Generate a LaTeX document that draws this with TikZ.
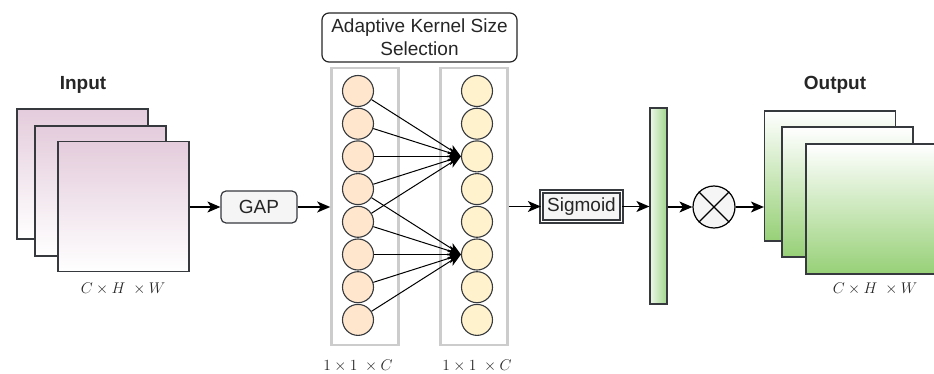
\documentclass[tikz,border=0pt]{standalone}
\usepackage{fix-cm}
\usepackage{fontspec}
\setmainfont{Liberation Sans}
\usetikzlibrary{arrows.meta,shapes.geometric}
\definecolor{inpink}{RGB}{228,204,220}
\definecolor{outgreen}{RGB}{151,208,119}
\definecolor{peach}{RGB}{255,230,204}
\definecolor{cream}{RGB}{255,242,204}
\definecolor{framegray}{RGB}{204,204,204}
\definecolor{edgegray}{RGB}{54,57,61}
\definecolor{boxfill}{RGB}{245,245,245}
\tikzset{
  arr/.style={line width=1.3pt,-{Stealth[length=13pt,width=11pt,inset=3.5pt]}},
  insq/.style={draw=edgegray,line width=1.2pt,minimum width=131pt,minimum height=130pt,inner sep=0pt,top color=inpink,bottom color=white},
  outsq/.style={draw=edgegray,line width=1.2pt,minimum width=131pt,minimum height=130pt,inner sep=0pt,top color=white,bottom color=outgreen},
  lcirc/.style={circle,draw=edgegray,line width=1.1pt,fill=peach,minimum size=31pt,inner sep=0pt},
  rcirc/.style={circle,draw=edgegray,line width=1.1pt,fill=cream,minimum size=31pt,inner sep=0pt},
  frame/.style={draw=framegray,line width=2.6pt,minimum width=67pt,minimum height=277pt,inner sep=0pt},
  lbl/.style={font=\fontsize{19}{23}\selectfont,text=black!85},
  mlbl/.style={font=\fontsize{15.5}{18}\selectfont,text=black!85},
  conn/.style={line width=1pt,-{Stealth[length=13pt,width=10pt,inset=3.5pt]}}
}
\begin{document}
\begin{tikzpicture}[x=1pt,y=-1pt]
\useasboundingbox (0,0) rectangle (934,374);
% input stack
\node[insq] (in1) at (82.5,174) {};
\node[insq] (in2) at (100.5,191) {};
\node[insq] (in3) at (123.5,206.5) {};
\node[lbl,font=\fontsize{19}{23}\selectfont\bfseries] (intext) at (83,85) {Input};
\node[mlbl] (indim) at (123,289) {$C\times H\ \times W$};
% GAP
\node[draw=edgegray,line width=1.2pt,rounded corners=5pt,fill=boxfill,minimum width=76pt,minimum height=32pt,lbl] (gap) at (259,207) {GAP};
% frames
\node[frame] (lf) at (365,206.5) {};
\node[frame] (rf) at (474,206.5) {};
\node[draw=black!85,line width=1.2pt,rounded corners=7pt,fill=white,minimum width=195pt,minimum height=49pt,lbl,align=center,inner sep=1pt] (title) at (419.5,37.5) {Adaptive Kernel Size\\Selection};
% circles
\foreach \i in {1,...,8}{
  \node[lcirc] (l\i) at (358,{91+(\i-1)*32.7}) {};
  \node[rcirc] (r\i) at (477,{91+(\i-1)*32.7}) {};
}
\foreach \i in {1,...,5} \draw[conn] (l\i) -- (r3.west);
\foreach \i in {4,...,8} \draw[conn] (l\i) -- (r6.west);
\node[mlbl] (d1) at (358,366) {$1\times 1\ \times C$};
\node[mlbl] (d2) at (477,366) {$1\times 1\ \times C$};
% sigmoid
\node[draw=edgegray,line width=1.3pt,double=white,double distance=1.6pt,fill=boxfill,minimum width=80pt,minimum height=30pt,inner sep=1pt,lbl] (sig) at (581.5,206.5) {Sigmoid};
% bar
\node[draw=edgegray,line width=1.2pt,minimum width=17pt,minimum height=196pt,inner sep=0pt,left color={rgb,255:red,236;green,247;blue,232},right color={rgb,255:red,160;green,214;blue,140}] (bar) at (658.5,206) {};
% multiply
\node[circle,draw=black,line width=1.2pt,fill=boxfill,minimum size=42pt,inner sep=0pt] (mul) at (714,207) {};
\draw[line width=1.2pt] (mul.45) -- (mul.225) (mul.135) -- (mul.315);
% output stack
\node[outsq] (o1) at (830,176) {};
\node[outsq] (o2) at (847.5,192) {};
\node[outsq] (o3) at (871.5,209) {};
\node[lbl,font=\fontsize{19}{23}\selectfont\bfseries] (outtext) at (835,85) {Output};
\node[mlbl] (outdim) at (875,289) {$C\times H\ \times W$};
% arrows
\draw[arr] (in3.east |- gap.west) -- (gap.west);
\draw[arr] (gap.east) -- (lf.west |- gap.east);
\draw[arr] (rf.east |- sig.west) -- (sig.west);
\draw[arr] (sig.east) -- (bar.west |- sig.east);
\draw[arr] (bar.east |- mul.west) -- (mul.west);
\draw[arr] (mul.east) -- (o1.west |- mul.east);
\end{tikzpicture}
\end{document}
